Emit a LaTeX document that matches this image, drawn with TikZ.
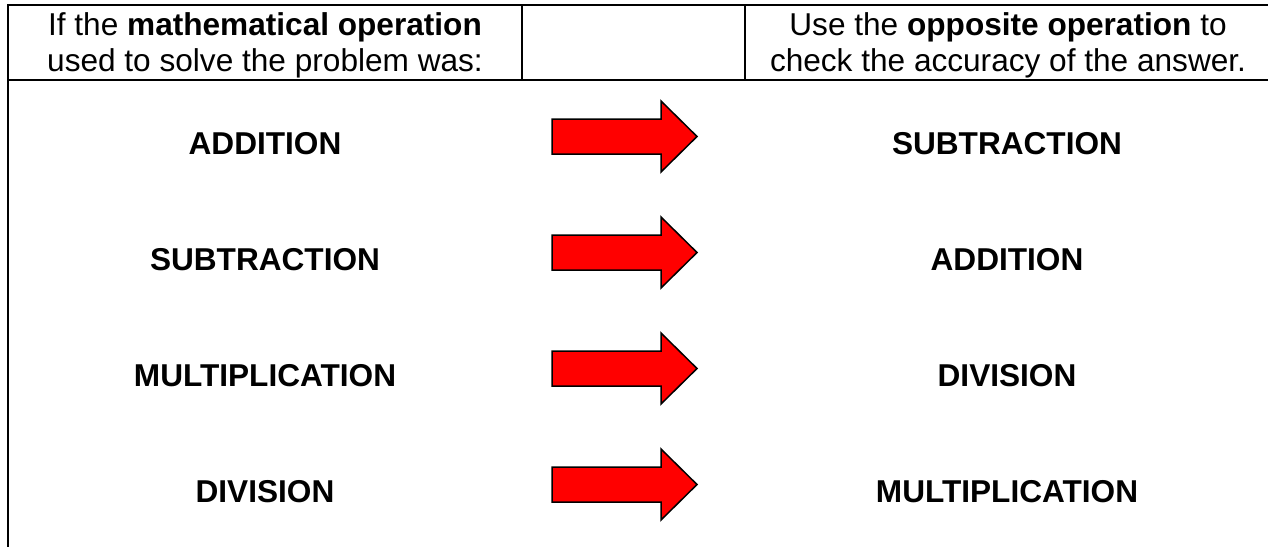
\documentclass[tikz,border=0pt]{standalone}
\usepackage{fontspec}
\setmainfont{Liberation Sans}
\begin{document}
\begin{tikzpicture}[x=1pt,y=-1pt,
  rule/.style={line width=2pt,black},
  hdr/.style={anchor=base,inner sep=0pt,font=\fontsize{31.6}{36}\selectfont},
  op/.style={anchor=base,inner sep=0pt,font=\fontsize{31.6}{36}\selectfont\bfseries},
  redarrow/.style={fill=red,draw=black,line width=1.5pt,line join=miter}]
\useasboundingbox (0,0) rectangle (1268,546);
% table rules
\coordinate (tl) at (8,5);
\coordinate (tr) at (1271,5);
\coordinate (hl) at (8,80);
\coordinate (hr) at (1271,80);
\coordinate (bl) at (8,550);
\coordinate (d1t) at (522,5);
\coordinate (d1b) at (522,80);
\coordinate (d2t) at (745,5);
\coordinate (d2b) at (745,80);
\draw[rule,line cap=rect] (tl) -- (tr);
\draw[rule] (hl) -- (hr);
\draw[rule] (tl) -- (bl);
\draw[rule] (d1t) -- (d1b);
\draw[rule] (d2t) -- (d2b);
% header
\node[hdr] (h1a) at (265,35) {If the \textbf{mathematical operation}};
\node[hdr] (h1b) at (265,71) {used to solve the problem was:};
\node[hdr] (h2a) at (1008,35) {Use the \textbf{opposite operation} to};
\node[hdr] (h2b) at (1008,71) {check the accuracy of the answer.};
% rows
\foreach \i/\l/\r in {0/ADDITION/SUBTRACTION,1/SUBTRACTION/ADDITION,2/MULTIPLICATION/DIVISION,3/DIVISION/MULTIPLICATION}{
  \node[op] (l\i) at (265,154+116*\i) {\l};
  \node[op] (r\i) at (1007,154+116*\i) {\r};
  \coordinate (a\i) at (552,136.5+116*\i);
  \draw[redarrow] (a\i) ++(0,-17.5) -- ++(109,0) -- ++(0,-18) -- ++(36,35.5) -- ++(-36,35.5) -- ++(0,-18) -- ++(-109,0) -- cycle;
}
\end{tikzpicture}
\end{document}
